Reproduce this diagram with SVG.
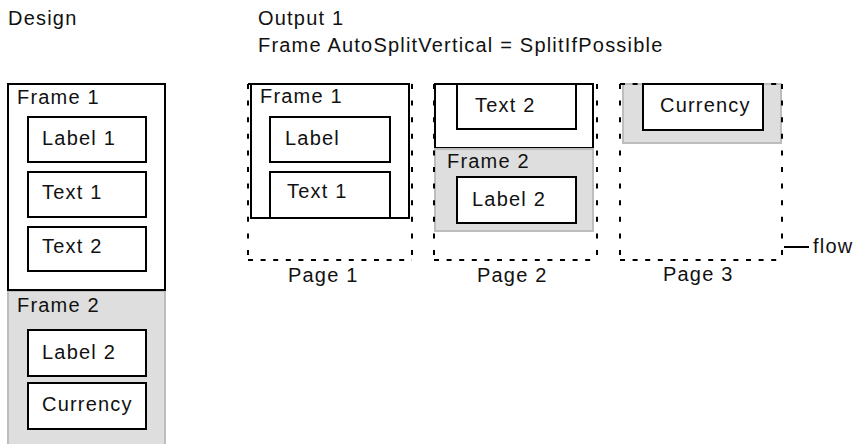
<svg xmlns="http://www.w3.org/2000/svg" width="858" height="444" viewBox="0 0 858 444">
<style>
text{font-family:"Liberation Sans",Arial,Helvetica,sans-serif;font-size:20px;letter-spacing:1.2px;fill:#111}
.box{fill:#fff;stroke:#000;stroke-width:2}
.frame{fill:#fff;stroke:#000;stroke-width:2}
.gray{fill:#dedede;stroke:#bdbdbd;stroke-width:2}
.dh{stroke:#000;stroke-width:2;stroke-dasharray:5 7.6;fill:none}
.dv{stroke:#000;stroke-width:2;stroke-dasharray:5 11.6;fill:none}
</style>
<rect width="858" height="444" fill="#fff"/>
<text x="8" y="25">Design</text>
<text x="258" y="25">Output 1</text>
<text x="258" y="52">Frame AutoSplitVertical = SplitIfPossible</text>

<g id="design-frame1">
<rect class="frame" x="8" y="84" width="157" height="206"/>
<text x="17" y="104">Frame 1</text>
</g>
<g id="design-label1"><rect class="box" x="28" y="117" width="118" height="45"/><text x="42" y="145">Label 1</text></g>
<g id="design-text1"><rect class="box" x="28" y="172" width="118" height="45"/><text x="42" y="199">Text 1</text></g>
<g id="design-text2"><rect class="box" x="28" y="227" width="118" height="44"/><text x="42" y="253">Text 2</text></g>
<g id="design-frame2">
<rect class="gray" x="8" y="291" width="157" height="160"/>
<line x1="7" y1="290" x2="166" y2="290" stroke="#000" stroke-width="2"/>
<text x="17" y="312">Frame 2</text>
</g>
<g id="design-label2"><rect class="box" x="28" y="330" width="118" height="46"/><text x="42" y="359">Label 2</text></g>
<g id="design-currency"><rect class="box" x="28" y="383" width="118" height="46"/><text x="42" y="411">Currency</text></g>

<g id="p1-frame1"><rect class="frame" x="251" y="84" width="158" height="134"/><text x="260" y="103">Frame 1</text></g>
<g id="p1-label"><rect class="box" x="270" y="117" width="120" height="45"/><text x="285" y="145">Label</text></g>
<g id="p1-text1"><rect class="box" x="270" y="172" width="120" height="46"/><text x="287" y="198">Text 1</text></g>

<g id="p2-frame1"><rect class="frame" x="435" y="84" width="158" height="64"/></g>
<g id="p2-text2"><rect class="box" x="457" y="84" width="119" height="45"/><text x="475" y="112">Text 2</text></g>
<g id="p2-frame2"><rect class="gray" x="435" y="149" width="158" height="82"/><text x="447" y="168">Frame 2</text></g>
<g id="p2-label2"><rect class="box" x="457" y="177" width="119" height="46"/><text x="472" y="206">Label 2</text></g>

<g id="p3-frame2"><rect class="gray" x="623" y="84" width="158" height="59"/></g>
<g id="p3-currency"><rect class="box" x="643" y="84" width="120" height="46"/><text x="660" y="112">Currency</text></g>

<g id="page1">
<line class="dh" x1="248" y1="84" x2="412" y2="84"/><line class="dh" x1="248" y1="260" x2="412" y2="260"/>
<line class="dv" x1="248" y1="84" x2="248" y2="260"/><line class="dv" x1="412" y1="84" x2="412" y2="260"/>
<text x="288" y="282">Page 1</text>
</g>
<g id="page2">
<line class="dh" x1="434" y1="84" x2="597" y2="84"/><line class="dh" x1="434" y1="260" x2="597" y2="260"/>
<line class="dv" x1="434" y1="84" x2="434" y2="260"/><line class="dv" x1="597" y1="84" x2="597" y2="260"/>
<text x="477" y="282">Page 2</text>
</g>
<g id="page3">
<line class="dh" x1="620" y1="84" x2="782" y2="84"/><line class="dh" x1="620" y1="260" x2="782" y2="260"/>
<line class="dv" x1="620" y1="84" x2="620" y2="260"/><line class="dv" x1="782" y1="84" x2="782" y2="260"/>
<text x="663" y="281">Page 3</text>
</g>

<g id="connectors">
<line x1="784" y1="247" x2="809" y2="247" stroke="#000" stroke-width="2"/>
</g>
<text x="813" y="253">flow</text>
</svg>
